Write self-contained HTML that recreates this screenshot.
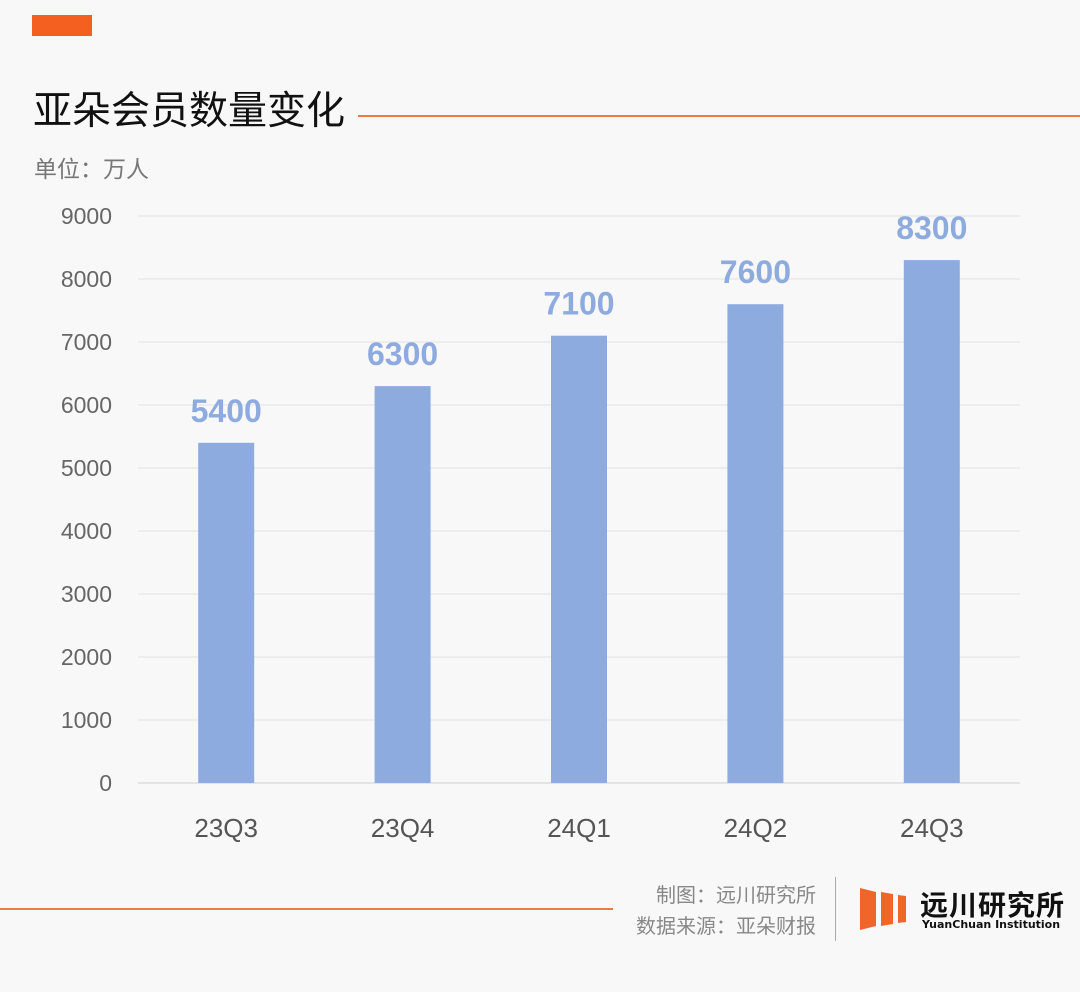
<!DOCTYPE html>
<html><head><meta charset="utf-8"><style>
html,body{margin:0;padding:0;background:#f8f8f8;}
body{width:1080px;height:992px;position:relative;overflow:hidden;font-family:"Liberation Sans","Noto Sans CJK SC",sans-serif;}
.abs{position:absolute;white-space:nowrap;}
</style></head><body>
<div class="abs" style="left:32px;top:15px;width:60px;height:21px;background:#f4601f"></div>
<div class="abs" style="left:33px;top:87px;font-size:39px;color:#111;line-height:50px">亚朵会员数量变化</div>
<div class="abs" style="left:358px;top:115px;width:722px;height:2px;background:#f07a3c"></div>
<div class="abs" style="left:34px;top:150px;font-size:23px;color:#777">单位：万人</div>
<svg class="abs" style="left:0;top:0" width="1080" height="992" id="chart"></svg>
<div class="abs" style="left:0;top:908px;width:613px;height:2px;background:#f07a3c"></div>
<div class="abs" style="left:600px;top:879px;width:216px;text-align:right;font-size:20px;color:#888">制图：远川研究所</div>
<div class="abs" style="left:600px;top:910px;width:216px;text-align:right;font-size:20px;color:#888">数据来源：亚朵财报</div>
<div class="abs" style="left:835px;top:877px;width:1px;height:64px;background:#aaa"></div>
<svg class="abs" style="left:858px;top:884px" width="60" height="50">
<polygon points="2,4 18,8 18,42 2,46" fill="#f0652a"/>
<polygon points="23,8 35,10 35,40 23,42" fill="#f0652a"/>
<polygon points="40,11 48,12 48,38 40,39" fill="#f0652a"/>
</svg>
<div class="abs" style="left:920px;top:884px;font-size:28px;font-weight:bold;color:#111;letter-spacing:1px">远川研究所</div>
<div class="abs" style="left:922px;top:918px;font-size:11px;font-weight:bold;color:#111;font-family:'DejaVu Sans',sans-serif">YuanChuan Institution</div>
<script>
const categories=["23Q3","23Q4","24Q1","24Q2","24Q3"];
const values=[5400,6300,7100,7600,8300];
const ticks=[0,1000,2000,3000,4000,5000,6000,7000,8000,9000];
const svg=document.getElementById('chart');
const NS='http://www.w3.org/2000/svg';
const x0=138,x1=1020,yBase=783,yTop=216,vMax=9000;
const y=v=>yBase-(v/vMax)*(yBase-yTop);
const band=(x1-x0)/categories.length;
const xc=i=>x0+band*(i+0.5);
function mk(t,a){const e=document.createElementNS(NS,t);for(const k in a)e.setAttribute(k,a[k]);svg.appendChild(e);return e;}
ticks.forEach(t=>{
 const l=mk('line',{x1:x0,x2:x1,y1:y(t),y2:y(t),stroke:t===0?'#d0d0d0':'#e2e2e2','stroke-width':1});
 
 
 const tx=mk('text',{x:112,y:y(t)+8,'text-anchor':'end','font-size':23,fill:'#666','font-family':'Liberation Sans, sans-serif'});
 tx.textContent=t;
 
 
});
categories.forEach((c,i)=>{
 const bw=56;
 const r=mk('rect',{x:xc(i)-bw/2,y:y(values[i]),width:bw,height:yBase-y(values[i]),fill:'#8eabdf'});
 
 
 const v=mk('text',{x:xc(i),y:y(values[i])-21,'text-anchor':'middle','font-size':32,'font-weight':'bold',fill:'#8eabdf','font-family':'Liberation Sans, sans-serif'});
 v.textContent=values[i];
 
 
 const t=mk('text',{x:xc(i),y:837,'text-anchor':'middle','font-size':26,fill:'#555','font-family':'Liberation Sans, sans-serif'});
 t.textContent=c;
 
 
});
</script>
</body></html>
